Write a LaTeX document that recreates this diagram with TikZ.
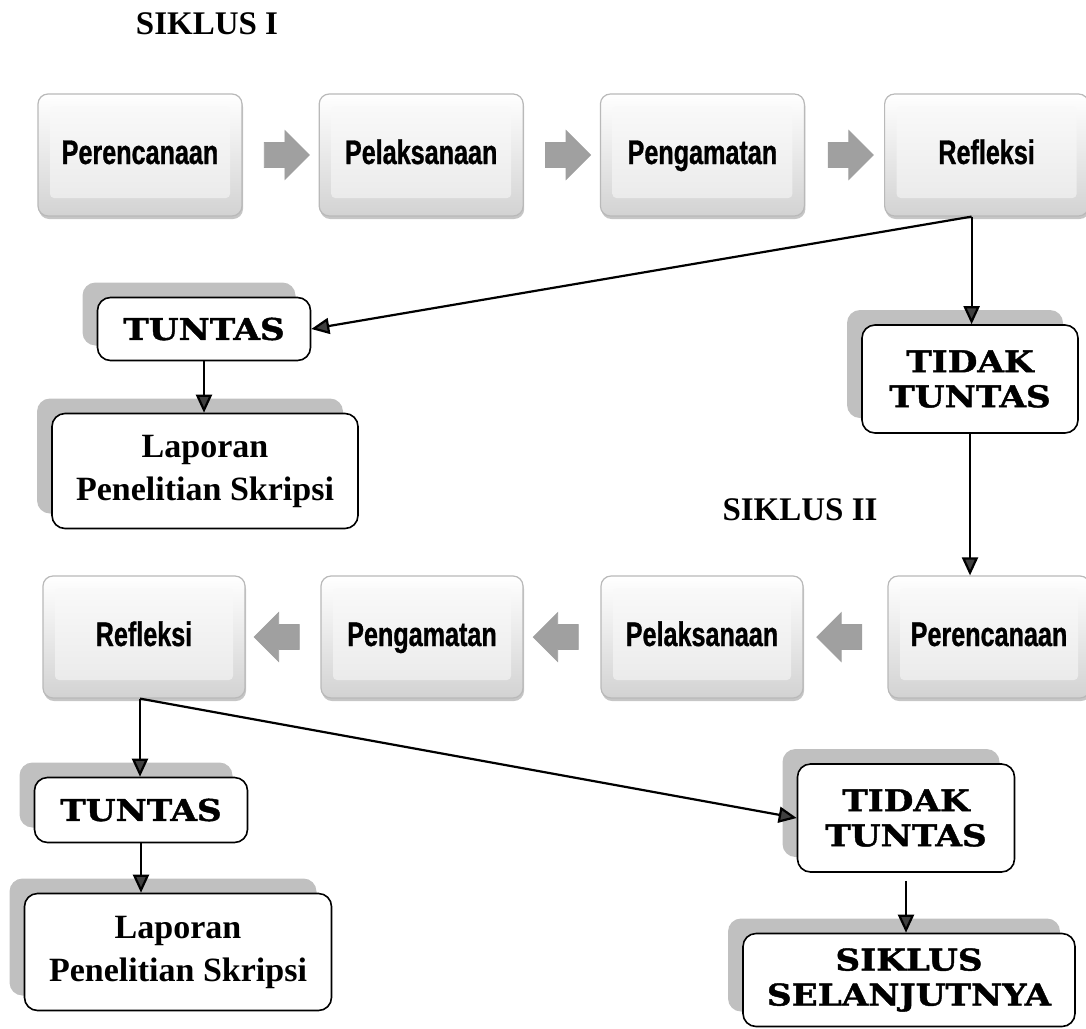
\documentclass[tikz,border=0pt]{standalone}
\usepackage{fontspec}
\setmainfont{Liberation Serif}
\newfontfamily\keyfont[FakeStretch=0.74,FakeBold=0.8]{Liberation Sans}
\newfontfamily\capfont[FakeStretch=1.14,FakeBold=1.4]{DejaVu Serif}
\usepackage{tikz}
\usetikzlibrary{positioning,shapes.arrows,arrows.meta,shadows,calc}

\definecolor{shadowgray}{HTML}{C0C0C0}
\definecolor{tipgray}{HTML}{404040}
\definecolor{arrowgray}{HTML}{A0A0A0}

\begin{document}
\begin{tikzpicture}[
		  x=1pt,y=-1pt,
		  node distance=76pt,
		  keybox/.style={rounded corners=10pt,minimum width=204pt,minimum height=122pt,
		    draw=gray!55,line width=1.2pt,top color=white,bottom color=gray!35,
		    drop shadow={shadow xshift=1pt,shadow yshift=-3pt,opacity=.45},
		    path picture={\shade[top color=gray!3,bottom color=gray!18,rounded corners=4pt]
		      ([shift={(12pt,18pt)}]path picture bounding box.south west) rectangle
		      ([shift={(-12pt,-12pt)}]path picture bounding box.north east);},
		    text height=25pt,text depth=7pt,
		    font=\keyfont\bfseries\fontsize{34}{40}\selectfont},
		  blockarrow/.style={single arrow,fill=arrowgray,draw=gray!75,line width=.8pt,
		    minimum height=45pt,single arrow head extend=12pt,inner xsep=0pt,inner ysep=12pt},
		  whitebox/.style={draw,fill=white,rounded corners=13pt,line width=1.6pt,align=center,
		    general shadow={fill=shadowgray,shadow xshift=-15pt,shadow yshift=15pt}},
		  capbox/.style={whitebox,font=\capfont\bfseries\fontsize{30}{35}\selectfont},
		  reportbox/.style={whitebox,minimum width=306pt,minimum height=115pt,
		    font=\bfseries\fontsize{34}{43}\selectfont},
		  title/.style={font=\bfseries\fontsize{33}{38}\selectfont},
		  link/.style={line width=2.2pt,-{Triangle[length=18pt,width=16pt,fill=tipgray]}}
		]
		\useasboundingbox (0,0) rectangle (1086,1028);
		% siklus I
		\node[title] (siklusA) at (207,24) {SIKLUS I};
		\node[keybox] (planA) at (140,155) {Perencanaan};
		\node[keybox,right=of planA] (doA) {Pelaksanaan};
		\node[keybox,right=of doA] (watchA) {Pengamatan};
		\node[keybox,right=79pt of watchA] (reflA) {Refleksi};
		\node[blockarrow] at ($(planA.east)!.5!(doA.west)$) (arrA) {};
		\node[blockarrow] at ($(doA.east)!.5!(watchA.west)$) (arrB) {};
		\node[blockarrow] at ($(watchA.east)!.5!(reflA.west)$) (arrC) {};
		\node[capbox,minimum width=213pt,minimum height=63pt] (doneA) at (204,329) {TUNTAS};
		\node[reportbox] (reportA) at (205,471) {Laporan\\Penelitian Skripsi};
		\node[capbox,minimum width=216pt,minimum height=108pt] (notA) at (970,379) {TIDAK\\TUNTAS};
		\coordinate (fromA) at ([xshift=-15pt]reflA.south);
		\draw[link] (fromA) -- (doneA.east);
		\draw[link] (fromA) -- (fromA |- notA.north);
		\draw[link] (doneA.south) -- (doneA.south |- reportA.north);
		% siklus II
		\node[title] (siklusB) at (800,510) {SIKLUS II};
		\node[keybox,minimum width=202pt] (planB) at (989,637) {Perencanaan};
		\node[keybox,minimum width=202pt] (doB) at (702,637) {Pelaksanaan};
		\node[keybox,minimum width=202pt] (watchB) at (422,637) {Pengamatan};
		\node[keybox,minimum width=202pt] (reflB) at (144,637) {Refleksi};
		\node[blockarrow,shape border rotate=180] at ($(planB.west)!.5!(doB.east)$) (arrD) {};
		\node[blockarrow,shape border rotate=180] at ($(doB.west)!.5!(watchB.east)$) (arrE) {};
		\node[blockarrow,shape border rotate=180] at ($(watchB.west)!.5!(reflB.east)$) (arrF) {};
		\draw[link] (notA.south) -- (notA.south |- planB.north);
		\node[capbox,minimum width=213pt,minimum height=65pt] (doneB) at (141,810) {TUNTAS};
		\node[reportbox,minimum width=307pt,minimum height=117pt] (reportB) at (178,952) {Laporan\\Penelitian Skripsi};
		\node[capbox,minimum width=217pt,minimum height=108pt] (notB) at (906,818) {TIDAK\\TUNTAS};
		\node[capbox,minimum width=332pt,minimum height=93pt] (nextB) at (909,980) {SIKLUS\\SELANJUTNYA};
		\coordinate (fromB) at ([xshift=-4pt]reflB.south);
		\draw[link] (fromB) -- (fromB |- doneB.north);
		\draw[link] (fromB) -- (notB.west);
		\draw[link] (doneB.south) -- (doneB.south |- reportB.north);
		\draw[link] ([yshift=-8pt]notB.south) -- (notB.south |- nextB.north);
		\end{tikzpicture}
\end{document}
